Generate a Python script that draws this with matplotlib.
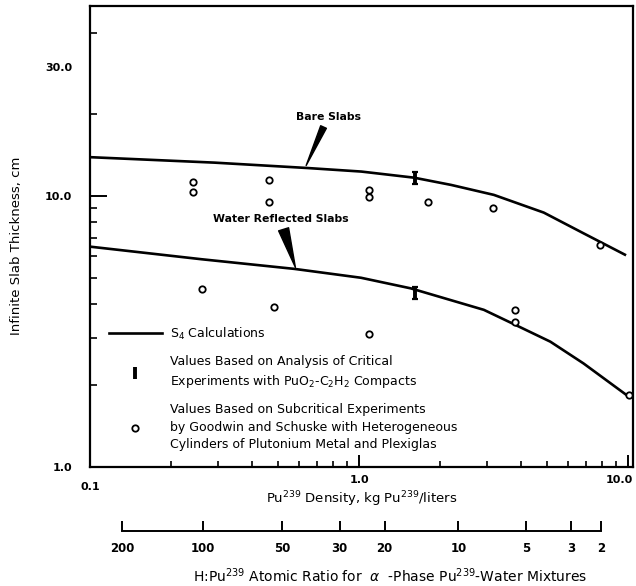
import matplotlib
matplotlib.use("Agg")
import matplotlib.pyplot as plt
from matplotlib.lines import Line2D
from matplotlib.transforms import ScaledTranslation
import numpy as np

plt.rcParams['font.family'] = ['DejaVu Sans']

# ---- data ----
bare_x = [0.1, 0.29, 0.64, 1.02, 1.6, 2.2, 3.17, 4.86, 6.83, 9.83]
bare_y = [13.9, 13.27, 12.68, 12.3, 11.68, 10.98, 10.09, 8.68, 7.28, 6.04]

water_x = [0.1, 0.26, 0.576, 1.017, 1.558, 2.91, 3.87, 5.14, 6.83, 9.89]
water_y = [6.50, 5.84, 5.38, 4.99, 4.56, 3.80, 3.32, 2.90, 2.41, 1.84]

# subcritical experiments (Goodwin and Schuske)
sub_x = [0.242, 0.242, 0.463, 0.463, 1.092, 1.092, 1.806, 3.144, 7.87,
         0.2615, 0.4816, 1.092, 3.805, 3.805, 10.1]
sub_y = [11.23, 10.32, 11.42, 9.50, 10.52, 9.94, 9.50, 9.03, 6.58,
         4.54, 3.90, 3.10, 3.80, 3.42, 1.84]

# critical experiments with PuO2-C2H2 compacts
crit_x = [1.616, 1.616]
crit_y = [11.62, 4.40]
crit_lo = [11.05, 4.18]
crit_hi = [12.23, 4.63]

# H:Pu239 atomic ratio scale
ratio_ticks = [200, 100, 50, 30, 20, 10, 5, 3, 2]


def ratio_to_density(h):
    # alpha-Pu (19.86 g/cc) in water: H/Pu = 26.56/rho - 1.337
    return 26.556 / (np.asarray(h, dtype=float) + 1.337)


W, H = 636, 586
fig = plt.figure(figsize=(W / 100, H / 100), dpi=100)
ax = fig.add_axes([90 / W, 1 - 467 / H, 543 / W, 461 / H])
ax.set_xscale('log')
ax.set_yscale('log')
ax.set_xlim(0.1, 10.43)
ax.set_ylim(1.0, 50.2)

ax.plot(bare_x, bare_y, color='black', lw=1.9, solid_capstyle='butt')
ax.plot(water_x, water_y, color='black', lw=1.9, solid_capstyle='butt')
ax.plot(sub_x, sub_y, ls='none', marker='o', ms=4.6, mfc='white',
        mec='black', mew=1.3)
crit_err = [np.subtract(crit_y, crit_lo), np.subtract(crit_hi, crit_y)]
ax.errorbar(crit_x, crit_y, yerr=crit_err, fmt='none', ecolor='black',
            elinewidth=2.8, capsize=2.2, capthick=1.6)

for s in ax.spines.values():
    s.set_linewidth(1.6)

# ticks
ax.set_xticks([0.1, 1, 10], ['', '1.0', '10.0'])
ax.set_xticks([0.2, 0.3, 0.4, 0.5, 0.6, 0.7, 0.8, 0.9,
               2, 3, 4, 5, 6, 7, 8, 9], minor=True)
ax.set_yticks([1, 10, 30], ['1.0', '10.0', '30.0'])
ax.set_yticks([2, 3, 4, 5, 6, 7, 8, 9, 20, 40], minor=True)
ax.yaxis.set_minor_formatter(plt.NullFormatter())
ax.xaxis.set_minor_formatter(plt.NullFormatter())
ax.tick_params(axis='x', which='major', direction='in', length=9, width=1.4,
               pad=6, labelsize=8, top=False)
ax.tick_params(axis='x', which='minor', direction='in', length=4, width=1.2,
               top=False)
ax.tick_params(axis='y', which='major', direction='in', length=12, width=1.4,
               pad=13, labelsize=8, right=False)
ax.tick_params(axis='y', which='minor', direction='in', length=5, width=1.2,
               right=False)
ax.yaxis.get_major_ticks()[2].tick1line.set_visible(False)
for lab in ax.get_xticklabels() + ax.get_yticklabels():
    lab.set_fontweight('bold')
lab10 = ax.get_xticklabels()[2]
lab10.set_transform(lab10.get_transform()
                    + ScaledTranslation(-6 / 72, 0, fig.dpi_scale_trans))
ax.annotate('0.1', xy=(0.1, 0), xycoords=('data', 'axes fraction'),
            xytext=(0, -11), textcoords='offset points', ha='center',
            va='top', fontsize=8, fontweight='bold')

ax.set_xlabel('Pu$^{239}$ Density, kg Pu$^{239}$/liters', fontsize=9.5,
              labelpad=3)
ax.set_ylabel('Infinite Slab Thickness, cm', fontsize=9.5)
ax.yaxis.set_label_coords(-0.123, 0.48)

# curve labels with wedge pointers
ax.annotate('Bare Slabs', xy=(0.636, 12.95), xytext=(0.768, 19.6),
            ha='center', va='center', fontsize=7.8, fontweight='bold',
            arrowprops=dict(arrowstyle='wedge,tail_width=0.45',
                            mutation_scale=10, fc='black', ec='black',
                            shrinkA=2, shrinkB=0))
ax.annotate('Water Reflected Slabs', xy=(0.58, 5.45), xytext=(0.51, 8.23),
            ha='center', va='center', fontsize=7.8, fontweight='bold',
            arrowprops=dict(arrowstyle='wedge,tail_width=0.75',
                            mutation_scale=10, fc='black', ec='black',
                            shrinkA=2, shrinkB=0))

# legend
h_line = Line2D([], [], color='black', lw=1.9)
h_err = ax.errorbar([], [], yerr=[], fmt='none', ecolor='black',
                    elinewidth=2.8, capsize=2.2, capthick=1.6)
h_circ = Line2D([], [], ls='none', marker='o', ms=4.6, mfc='white',
                mec='black', mew=1.3)
leg = ax.legend([h_line, h_err, h_circ],
                ['S$_4$ Calculations',
                 'Values Based on Analysis of Critical\n'
                 'Experiments with PuO$_2$-C$_2$H$_2$ Compacts',
                 'Values Based on Subcritical Experiments\n'
                 'by Goodwin and Schuske with Heterogeneous\n'
                 'Cylinders of Plutonium Metal and Plexiglas'],
                loc='upper left', bbox_to_anchor=(0.035, 0.307), frameon=False,
                fontsize=9, handlelength=4.2, handletextpad=0.7,
                labelspacing=1.05, borderpad=0, borderaxespad=0)
for t in leg.get_texts():
    t.set_linespacing(1.45)

# secondary H:Pu scale below the main axis
ax2 = fig.add_axes([90 / W, 1 - 531 / H, 543 / W, 0.0001])
ax2.set_xscale('log')
ax2.set_xlim(ax.get_xlim())
ax2.set_yticks([])
for side in ['top', 'left', 'right']:
    ax2.spines[side].set_visible(False)
dens = ratio_to_density(ratio_ticks)
ax2.spines['bottom'].set_bounds(dens.min(), dens.max())
ax2.spines['bottom'].set_linewidth(1.4)
ax2.set_xticks(dens, [str(r) for r in ratio_ticks])
ax2.xaxis.set_minor_locator(plt.NullLocator())
ax2.tick_params(axis='x', direction='in', length=7, width=1.4, pad=8,
                labelsize=8.5)
for lab in ax2.get_xticklabels():
    lab.set_fontweight('bold')
fig.text(390 / W, 1 - 576 / H,
         'H:Pu$^{239}$ Atomic Ratio for  $\\alpha$  -Phase '
         'Pu$^{239}$-Water Mixtures', fontsize=10, ha='center', va='center')

fig.savefig('out.png', dpi=100)
